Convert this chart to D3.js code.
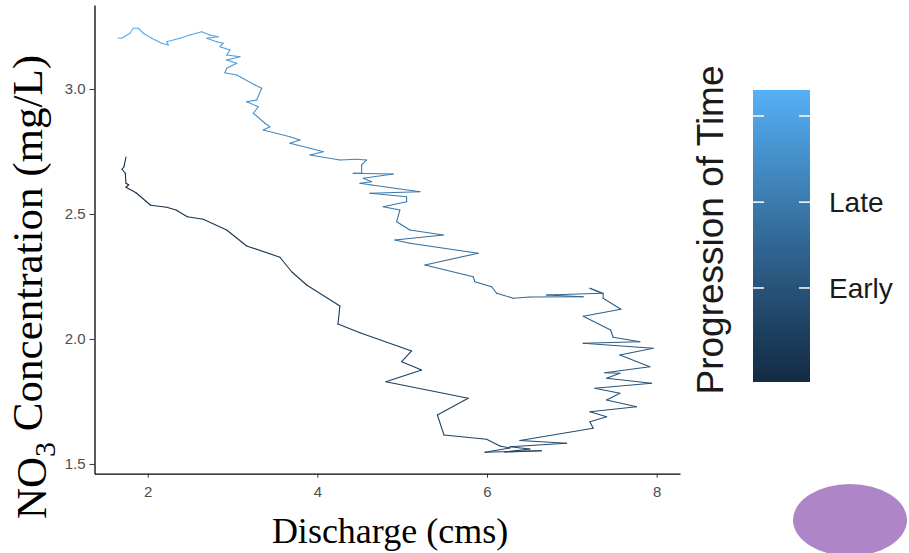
<!DOCTYPE html>
<html>
<head>
<meta charset="utf-8">
<script src="https://cdn.jsdelivr.net/npm/d3@7"></script>
<style>
  body { margin: 0; background: #fff; }
  svg { display: block; }
</style>
</head>
<body>
<div id="chart-area"></div>
<script>
// discharge (cms) and NO3 (mg/L) in time order (early -> late)
const discharge = [
  1.744, 1.721, 1.697, 1.736, 1.744, 1.776, 1.744, 1.862, 2.035, 2.224,
  2.334, 2.467, 2.655, 2.931, 3.167, 3.559, 3.697, 3.874, 4.266, 4.243,
  4.502, 5.111, 4.994, 5.229, 4.808, 5.778, 5.415, 5.492, 5.995, 6.152,
  6.270, 5.975, 6.643, 6.211, 6.506, 6.270, 6.938, 6.388, 7.252, 7.213,
  7.410, 7.213, 7.763, 7.410, 7.566, 7.272, 7.940, 7.410, 7.566, 7.389,
  7.920, 7.566, 7.959, 7.134, 7.802, 7.487, 7.457, 7.134, 7.578, 7.369,
  7.369, 7.213, 7.351, 6.702, 7.134, 6.506, 6.309, 6.113, 6.054, 5.857,
  5.837, 5.268, 5.896, 5.091, 4.915, 5.484, 5.091, 4.935, 4.973, 4.777,
  5.052, 5.052, 4.620, 5.209, 4.640, 4.502, 4.640, 4.541, 4.894, 4.423,
  4.522, 4.522, 4.581, 4.463, 4.266, 3.913, 4.070, 3.913, 3.677, 3.795,
  3.677, 3.362, 3.441, 3.382, 3.245, 3.304, 3.167, 3.285, 3.344, 3.265,
  3.049, 2.911, 2.931, 3.049, 2.931, 3.088, 2.931, 2.970, 2.852, 2.891,
  2.813, 2.695, 2.832, 2.734, 2.636, 2.499, 2.381, 2.224, 2.243, 2.165,
  2.047, 1.948, 1.889, 1.830, 1.791, 1.694, 1.650
];
const no3 = [
  2.728, 2.689, 2.679, 2.663, 2.623, 2.617, 2.607, 2.585, 2.535, 2.527,
  2.516, 2.489, 2.479, 2.436, 2.372, 2.327, 2.269, 2.216, 2.132, 2.060,
  2.025, 1.952, 1.909, 1.876, 1.829, 1.763, 1.696, 1.616, 1.599, 1.572,
  1.564, 1.547, 1.553, 1.548, 1.560, 1.569, 1.583, 1.594, 1.643, 1.669,
  1.689, 1.709, 1.729, 1.756, 1.783, 1.803, 1.823, 1.843, 1.863, 1.865,
  1.889, 1.936, 1.963, 1.983, 1.989, 2.007, 2.036, 2.091, 2.119, 2.163,
  2.183, 2.203, 2.183, 2.176, 2.169, 2.168, 2.163, 2.183, 2.209, 2.229,
  2.249, 2.296, 2.343, 2.383, 2.396, 2.416, 2.436, 2.469, 2.516, 2.529,
  2.549, 2.569, 2.583, 2.589, 2.616, 2.623, 2.629, 2.643, 2.660, 2.663,
  2.663, 2.696, 2.716, 2.719, 2.716, 2.736, 2.749, 2.763, 2.783, 2.796,
  2.809, 2.836, 2.849, 2.863, 2.903, 2.929, 2.949, 2.956, 3.003, 3.016,
  3.056, 3.065, 3.083, 3.103, 3.116, 3.129, 3.136, 3.156, 3.169, 3.183,
  3.189, 3.203, 3.209, 3.216, 3.229, 3.216, 3.203, 3.189, 3.176, 3.183,
  3.203, 3.223, 3.243, 3.243, 3.223, 3.203, 3.204
];
const xTicks = [2, 4, 6, 8];
const yTicks = [1.5, 2.0, 2.5, 3.0];
// legend: tick positions on the time scale (0..1) and their labels
const legendTicks = [0.322, 0.616, 0.911];
const legendLabels = ["Early", "Late", ""];

const width = 909, height = 553;
const lowColor = "#132B43", highColor = "#56B1F7";

const svg = d3.select("#chart-area").append("svg")
    .attr("width", width)
    .attr("height", height);

const x = d3.scaleLinear()
    .domain([1.373, 8.275])
    .range([94.5, 680]);

const y = d3.scaleLinear()
    .domain([1.461, 3.336])
    .range([473.7, 5]);

const colour = d3.scaleLinear()
    .domain([0, discharge.length - 1])
    .range([lowColor, highColor])
    .interpolate(d3.interpolateLab);

// path, one segment per time step so the colour can change
const segs = d3.range(discharge.length - 1);
svg.append("g").selectAll("line")
    .data(segs)
    .enter()
    .append("line")
    .attr("x1", (i) => x(discharge[i]))
    .attr("y1", (i) => y(no3[i]))
    .attr("x2", (i) => x(discharge[i + 1]))
    .attr("y2", (i) => y(no3[i + 1]))
    .attr("stroke", (i) => colour(i))
    .attr("stroke-width", 1.1)
    .attr("stroke-linecap", "round");

// axes
const xAxis = svg.append("g")
    .attr("transform", "translate(0,473.7)")
    .call(d3.axisBottom(x).tickValues(xTicks).tickSize(4).tickSizeOuter(0).tickFormat(d3.format("d")));

const yAxis = svg.append("g")
    .attr("transform", "translate(94.5,0)")
    .call(d3.axisLeft(y).tickValues(yTicks).tickSize(5).tickSizeOuter(0).tickFormat(d3.format(".1f")));

[xAxis, yAxis].forEach((g) => {
    g.select(".domain").attr("stroke", "#000").attr("stroke-width", 1.3);
    g.selectAll(".tick line").attr("stroke", "#333").attr("stroke-width", 1);
    g.selectAll(".tick text")
        .attr("fill", "#4d4d4d")
        .style("font-family", "Liberation Sans, Arial, sans-serif")
        .style("font-size", "15px");
});
xAxis.selectAll(".tick text").attr("dy", "1.1em");
yAxis.selectAll(".tick text").attr("x", -9);

// axis titles
svg.append("text")
    .attr("x", 390)
    .attr("y", 543)
    .attr("text-anchor", "middle")
    .style("font-family", "Liberation Serif, Times New Roman, serif")
    .style("font-size", "36px")
    .text("Discharge (cms)");

const yTitle = svg.append("text")
    .attr("transform", "translate(46,287) rotate(-90)")
    .attr("text-anchor", "middle")
    .style("font-family", "Liberation Serif, Times New Roman, serif")
    .style("font-size", "43px");
yTitle.append("tspan").text("NO");
yTitle.append("tspan").attr("dy", "0.3em").style("font-size", "30px").text("3");
yTitle.append("tspan").attr("dy", "-0.3em").text(" Concentration (mg/L)");

// colour bar legend
const barX = 753, barW = 57, barTop = 90, barBottom = 382;
const defs = svg.append("defs");
const grad = defs.append("linearGradient")
    .attr("id", "timegrad")
    .attr("x1", 0).attr("y1", 1).attr("x2", 0).attr("y2", 0);
d3.range(0, 1.01, 0.1).forEach((t) => {
    grad.append("stop")
        .attr("offset", t)
        .attr("stop-color", d3.interpolateLab(lowColor, highColor)(t));
});

svg.append("rect")
    .attr("x", barX)
    .attr("y", barTop)
    .attr("width", barW)
    .attr("height", barBottom - barTop)
    .attr("fill", "url(#timegrad)");

const ly = d3.scaleLinear().domain([0, 1]).range([barBottom, barTop]);

svg.append("g").selectAll("line.l")
    .data(legendTicks)
    .enter()
    .append("line")
    .attr("x1", barX).attr("x2", barX + 11)
    .attr("y1", (d) => ly(d)).attr("y2", (d) => ly(d))
    .attr("stroke", "#fff").attr("stroke-width", 1.5);

svg.append("g").selectAll("line.r")
    .data(legendTicks)
    .enter()
    .append("line")
    .attr("x1", barX + barW - 11).attr("x2", barX + barW)
    .attr("y1", (d) => ly(d)).attr("y2", (d) => ly(d))
    .attr("stroke", "#fff").attr("stroke-width", 1.5);

svg.append("g").selectAll("text")
    .data(legendTicks)
    .enter()
    .append("text")
    .attr("x", 829)
    .attr("y", (d) => ly(d))
    .attr("dy", "0.36em")
    .attr("fill", "#1a1a1a")
    .style("font-family", "Liberation Sans, Arial, sans-serif")
    .style("font-size", "28px")
    .text((d, i) => legendLabels[i]);

svg.append("text")
    .attr("transform", "translate(723,230) rotate(-90)")
    .attr("text-anchor", "middle")
    .attr("fill", "#1a1a1a")
    .style("font-family", "Liberation Sans, Arial, sans-serif")
    .style("font-size", "37px")
    .text("Progression of Time");

// purple blob in the corner
svg.append("ellipse")
    .attr("cx", 850)
    .attr("cy", 520)
    .attr("rx", 57)
    .attr("ry", 36)
    .attr("fill", "#ae85c6");
</script>
</body>
</html>
